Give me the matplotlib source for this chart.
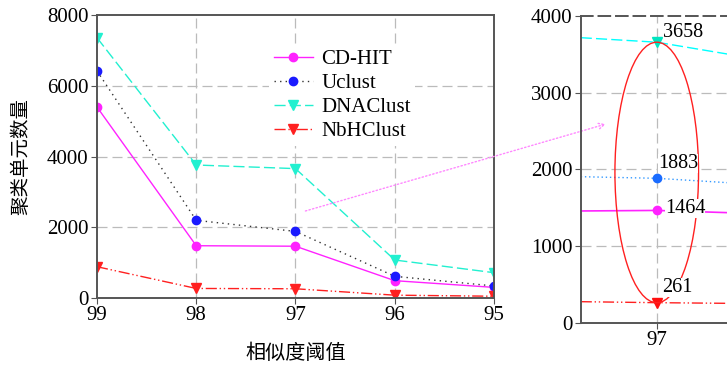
import numpy as np
import matplotlib.pyplot as plt
from matplotlib.patches import Ellipse

plt.rcParams['font.family'] = ['Liberation Serif', 'DejaVu Serif']

# data
thresholds = [99, 98, 97, 96, 95]
cdhit = [5400, 1478, 1464, 490, 300]
uclust = [6420, 2196, 1883, 613, 340]
dnaclust = [7358, 3760, 3658, 1074, 716]
nbhclust = [885, 270, 261, 80, 50]

# zoomed view around threshold 97
inset_x = [97.7, 97, 96.3]
inset_cdhit = [1457, 1464, 1433]
inset_uclust = [1904, 1883, 1822]
inset_dnaclust = [3717, 3658, 3492]
inset_nbhclust = [274, 261, 252]

grid_kw = dict(color='#bbbbbb', linestyle=(0, (8, 4)), linewidth=0.9)
spine_col = '#555555'
cjk = ['Noto Sans CJK SC', 'DejaVu Sans']

fig = plt.figure(figsize=(7.27, 3.69), dpi=100)
ax = fig.add_axes([0.1334, 0.1924, 0.5461, 0.7669])

ax.plot(thresholds, cdhit, color='#ff22ff', lw=1, marker='o', ms=6, label='CD-HIT')
ax.plot(thresholds, uclust, color='#333333', lw=1, ls=(0, (1, 3)), marker='o', ms=6,
        mfc='#1a1aff', mec='#1a1aff', label='Uclust')
ax.plot(thresholds, dnaclust, color='#22f0d0', lw=1, ls=(0, (8, 3)), marker='v', ms=7,
        label='DNAClust')
ax.plot(thresholds, nbhclust, color='#ff2020', lw=1, ls=(0, (8, 2, 1, 2, 1, 2)), marker='v',
        ms=7, label='NbHClust')

ax.set_xlim(99, 95)
ax.set_ylim(0, 8000)
ax.set_xticks(thresholds)
ax.set_yticks([0, 2000, 4000, 6000, 8000])
for v in [98, 97, 96]:
    ax.axvline(v, zorder=0, **grid_kw)
for v in [2000, 4000, 6000]:
    ax.axhline(v, zorder=0, **grid_kw)
for s in ax.spines.values():
    s.set_color(spine_col)
    s.set_linewidth(1.4)
ax.tick_params(labelsize=15, direction='out', length=4, color=spine_col, pad=2)
ax.set_ylabel('聚类单元数量', fontsize=14, family=cjk, labelpad=11)
ax.set_xlabel('相似度阈值', fontsize=14.5, family=cjk, labelpad=13)

leg = ax.legend(loc='upper left', bbox_to_anchor=(0.408, 0.93), fontsize=15,
                frameon=True, facecolor='white', edgecolor='none', framealpha=1,
                handlelength=1.9, handletextpad=0.4, labelspacing=0.22,
                borderpad=0.2)

# inset
axin = fig.add_axes([0.7988, 0.1255, 0.2091, 0.8312])
axin.patch.set_alpha(0)
axin.plot(inset_x, inset_dnaclust, color='#00ffff', lw=1, ls=(0, (8, 3)))
axin.plot(inset_x, inset_uclust, color='#3399ff', lw=1, ls=(0, (1, 2)))
axin.plot(inset_x, inset_cdhit, color='#ff22ff', lw=1.2)
axin.plot(inset_x, inset_nbhclust, color='#ff2020', lw=1, ls=(0, (8, 2, 1, 2, 1, 2)))
axin.plot([97], [dnaclust[2]], marker='v', ms=7, color='#00e5c0')
axin.plot([97], [uclust[2]], marker='o', ms=6, color='#1a6cff')
axin.plot([97], [cdhit[2]], marker='o', ms=6, color='#ff22ff')
axin.plot([97], [nbhclust[2]], marker='v', ms=7, color='#ff1010')

lo, hi = min(nbhclust[2], cdhit[2]), dnaclust[2]
axin.add_patch(Ellipse((97, (lo + hi) / 2), 0.77, hi - lo, fill=False,
                       edgecolor='#ff2020', lw=1, zorder=3))

offsets = {'dnaclust': (6, 10), 'uclust': (1, 15), 'cdhit': (8, 2), 'nbhclust': (5, 15)}
for key, vals in [('dnaclust', dnaclust), ('uclust', uclust), ('cdhit', cdhit),
                  ('nbhclust', nbhclust)]:
    axin.annotate(str(vals[2]), (97, vals[2]), xytext=offsets[key],
                  textcoords='offset pixels', fontsize=14.5, va='center', ha='left',
                  bbox=dict(facecolor='white', edgecolor='none', pad=0), zorder=4)

axin.set_xlim(97.7, 96.3)
axin.set_ylim(0, 4000)
axin.set_xticks([97])
axin.set_yticks([0, 1000, 2000, 3000, 4000])
axin.axvline(97, zorder=0, **grid_kw)
for v in [1000, 2000, 3000]:
    axin.axhline(v, zorder=0, **grid_kw)
axin.spines['right'].set_visible(False)
axin.spines['top'].set_linestyle((0, (6, 3)))
for s in axin.spines.values():
    s.set_color(spine_col)
    s.set_linewidth(1.4)
axin.tick_params(labelsize=15, direction='out', length=4, color=spine_col, pad=2)

# dotted connector from main chart to the inset
ax.annotate('', xy=(97.47, 2590), xycoords=axin.transData,
            xytext=(96.9, 2460), textcoords=ax.transData,
            arrowprops=dict(arrowstyle='->', color='#ff88ff', lw=1, ls=':',
                            shrinkA=0, shrinkB=0),
            annotation_clip=False)

fig.savefig('out.png', dpi=100)
